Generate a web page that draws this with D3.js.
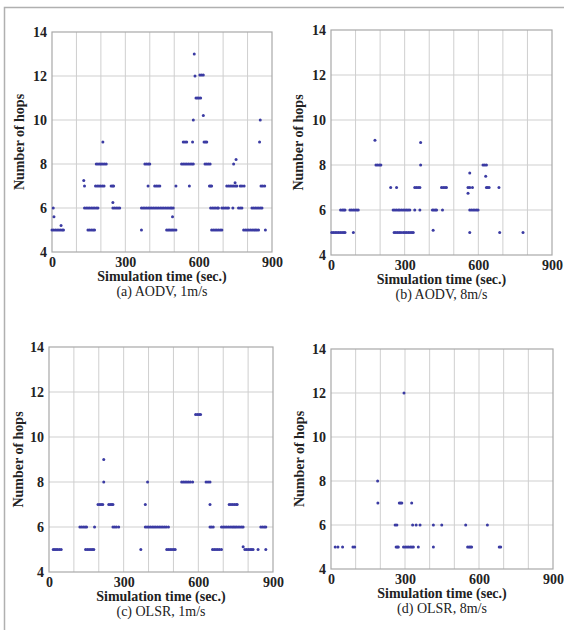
<!DOCTYPE html>
<html><head><meta charset="utf-8">
<script src="https://cdn.jsdelivr.net/npm/d3@7"></script>
<style>body{margin:0;background:#fff}svg{display:block}</style>
</head><body>
<svg id="c" width="564" height="630"></svg>
<script>
// ---- data: [hops, [simulation times (sec.)]] ----
const xTicks = [0, 300, 600, 900];
const yTicks = [4, 6, 8, 10, 12, 14];
const captions = ["(a) AODV, 1m/s", "(b) AODV, 8m/s", "(c) OLSR, 1m/s", "(d) OLSR, 8m/s"];
const xTitle = "Simulation time (sec.)";
const yTitle = "Number of hops";

const aodv1 = [
  [5, [0,7,14,21,28,35,42,47, 147,154,161,168,174, 366, 469,475,481,487,493,499,507,
       653,660,667,674,681,688,695, 784,791,798,805,812,819,826,832,838, 845, 873]],
  [5.2, [37]],
  [5.6, [8, 493]],
  [6, [5, 133,140,147,154,161,168,175,182,188, 249,256,263,270,277,
       366,373,380,387,394,401,408,415,422,429,436,443,450,457,464,471,478,485,490,496,
       649,656,663,670,677,681, 695,702,709,716,722, 740, 763,770,777,
       818,825,832,839,846,853,859]],
  [6.25, [249]],
  [7, [133, 178,185,192,199,206,213, 242,248,252, 393, 420,427,434,441, 507, 562,
       644,649,653, 715,722,729,736,743,750,756, 770,777,786, 855,862,870]],
  [7.15, [749]],
  [7.25, [130]],
  [8, [181,188,195,201, 208,215,222, 380,387,394,400, 530,537,544,551,558,565,572,578,
       626,633,640,647, 743]],
  [8.2, [753]],
  [9, [208, 537,544,551, 575, 622,628,633, 849]],
  [10, [578, 852]],
  [10.2, [619]],
  [11, [589,595,601,608]],
  [12, [585]],
  [12.05, [605,612,619]],
  [13, [582]]
];

const aodv8 = [
  [5, [3,10,17,24,31,38,45,52,57, 91, 257,264,271,278,285,294, 301,308,315,322,329,335,
       565, 687, 782]],
  [5.1, [416]],
  [6, [39,46,52,57, 77,84,91,98,105,111, 253,260,267,274,280, 287,294,301,308,314, 321,
       341, 362, 413,419,425,430, 454, 565,572,579,586,593,599]],
  [6.75, [558]],
  [7, [243, 267, 341,348,355,362, 450,457,464,470, 558,565, 576, 633,638,644, 684]],
  [7.5, [630]],
  [7.65, [565]],
  [8, [183,190,197,203, 365, 619,626,633]],
  [9, [365]],
  [9.1, [179]]
];

const olsr1 = [
  [5, [17,23,29,35,42,49, 147,154,161,168,174,180, 369, 473,480,487,494,501,507,
       657,664,671,678,685,693, 787,794,801,808,814,820, 840, 871]],
  [5.12, [780]],
  [6, [124,131,138,145,151, 183, 257,264,271,280,
       387,394,401,408,415,422,429,436,443,450,457,464,471,480,
       647,653,660, 693,700,707,714,721,728,735,741,747, 753,760,767,774,780,
       851,858,865,871]],
  [7, [197,204,210,216, 240,246,252,257, 387, 647, 724,731,738,745,752,756]],
  [8, [220, 396, 533,540,547,554,561,568,577, 631,639,647]],
  [9, [220]],
  [11, [589,596,603,609]]
];

const olsr8 = [
  [5, [17,28,47,89,96, 264,269,273, 294,301,308,315,322,328,334, 354, 415,
       554,560,565,570, 682,688]],
  [6, [260,267, 331,345,361, 415, 449, 546, 634]],
  [7, [190, 277,282,287, 327]],
  [8, [189]],
  [12, [296]]
];

const seriesList = [aodv1, aodv8, olsr1, olsr8];

// ---- layout ----
const panels = [
  {x0: 52,  x1: 272, yT: 32,  yB: 252, yl: 19},
  {x0: 331, x1: 552, yT: 30,  yB: 255, yl: 298},
  {x0: 49,  x1: 273, yT: 347, yB: 572, yl: 18},
  {x0: 331, x1: 553, yT: 349, yB: 569, yl: 299}
];

const svg = d3.select("#c");
const FONT = "'Liberation Serif','Times New Roman',serif";

// outer frame (left and top edges)
svg.append("path").attr("d", "M4.5,630 L4.5,7.5 L564,7.5")
  .attr("fill", "none").attr("stroke", "#b0b0b0").attr("stroke-width", 1.5);

panels.forEach((p, i) => {
  const x = d3.scaleLinear().domain([0, 900]).range([p.x0, p.x1]);
  const y = d3.scaleLinear().domain([4, 14]).range([p.yB, p.yT]);
  const g = svg.append("g");

  // grid
  g.append("g").selectAll("line").data(d3.range(100, 900, 100)).join("line")
    .attr("x1", d => x(d)).attr("x2", d => x(d)).attr("y1", p.yT).attr("y2", p.yB)
    .attr("stroke", "#cfcfcf").attr("stroke-width", 1);
  g.append("g").selectAll("line").data(yTicks.slice(1, -1)).join("line")
    .attr("y1", d => y(d)).attr("y2", d => y(d)).attr("x1", p.x0).attr("x2", p.x1)
    .attr("stroke", "#cfcfcf").attr("stroke-width", 1);
  g.append("rect").attr("x", p.x0).attr("y", p.yT)
    .attr("width", p.x1 - p.x0).attr("height", p.yB - p.yT)
    .attr("fill", "none").attr("stroke", "#a8a8a8").attr("stroke-width", 1.2);

  // axes
  const ax = g.append("g").attr("transform", `translate(0,${p.yB})`)
    .call(d3.axisBottom(x).tickValues(xTicks).tickSize(0).tickPadding(5));
  ax.select(".domain").remove();
  ax.selectAll("text").attr("font-family", FONT).attr("font-size", 14)
    .attr("font-weight", "bold").attr("fill", "#222");

  const ay = g.append("g").attr("transform", `translate(${p.x0},0)`)
    .call(d3.axisLeft(y).tickValues(yTicks).tickSize(0).tickPadding(5));
  ay.select(".domain").remove();
  ay.selectAll("text").attr("font-family", FONT).attr("font-size", 14)
    .attr("font-weight", "bold").attr("fill", "#222");

  // titles
  const cx = (p.x0 + p.x1) / 2;
  g.append("text").attr("x", cx).attr("y", p.yB + 29).attr("text-anchor", "middle")
    .attr("font-family", FONT).attr("font-size", 14).attr("font-weight", "bold")
    .attr("fill", "#222").text(xTitle);
  g.append("text").attr("x", cx).attr("y", p.yB + 44).attr("text-anchor", "middle")
    .attr("font-family", FONT).attr("font-size", 14)
    .attr("fill", "#222").text(captions[i]);
  g.append("text")
    .attr("transform", `translate(${p.yl},${(p.yT + p.yB) / 2}) rotate(-90)`)
    .attr("text-anchor", "middle").attr("dominant-baseline", "central")
    .attr("font-family", FONT).attr("font-size", 14).attr("font-weight", "bold")
    .attr("fill", "#222").text(yTitle);

  // points
  const pts = seriesList[i].flatMap(([h, ts]) => ts.map(t => ({t, h})));
  g.append("g").selectAll("circle").data(pts).join("circle")
    .attr("cx", d => x(d.t)).attr("cy", d => y(d.h)).attr("r", 1.5)
    .attr("fill", "#3b3ba3");
});
</script>
</body></html>
